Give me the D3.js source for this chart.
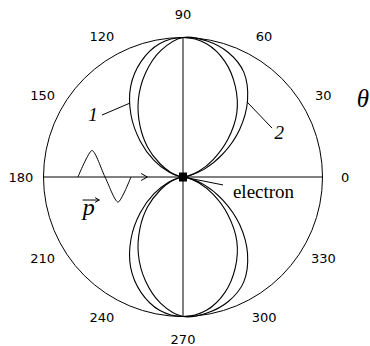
<!DOCTYPE html>
<html>
<head>
<meta charset="utf-8">
<script src="https://cdn.jsdelivr.net/npm/d3@7"></script>
<style>
  body { margin: 0; background: #fff; }
  svg { display: block; }
</style>
</head>
<body>
<svg></svg>
<script>
// polar angles (deg) and relative radius of the two lobes
var angles = [0,10,20,30,40,50,60,70,80,90,100,110,120,130,140,150,160,170,
              180,190,200,210,220,230,240,250,260,270,280,290,300,310,320,330,340,350]
var curve1 = [0,0.03,0.12,0.25,0.42,0.60,0.75,0.88,0.97,1.0,0.97,0.88,0.75,0.58,0.40,0.24,0.11,0.03,
              0,0.03,0.11,0.24,0.40,0.58,0.75,0.88,0.97,1.0,0.97,0.88,0.75,0.60,0.42,0.25,0.12,0.03]
var curve2 = [0,0.04,0.16,0.33,0.53,0.72,0.87,0.95,0.99,1.0,0.92,0.79,0.64,0.48,0.33,0.19,0.09,0.02,
              0,0.02,0.09,0.19,0.33,0.48,0.64,0.79,0.92,1.0,0.99,0.95,0.87,0.72,0.53,0.33,0.16,0.04]
var tickAngles = [0,30,60,90,120,150,180,210,240,270,300,330]

var width = 370
var height = 346
var cx = 183, cy = 177, R = 139.5

var svg = d3.select("svg")
    .attr("width", width)
    .attr("height", height)

var x = d3.scaleLinear().domain([-1, 1]).range([cx - R, cx + R])
var y = d3.scaleLinear().domain([-1, 1]).range([cy + R, cy - R])
var r = d3.scaleLinear().domain([0, 1]).range([0, R])

var g = svg.append("g")
    .attr("transform", "translate(" + cx + "," + cy + ")")

// outer ring
g.append("circle")
    .attr("r", r(1))
    .attr("fill", "none")
    .attr("stroke", "#000")
    .attr("stroke-width", 1)

// axes
svg.append("line")
    .attr("x1", x(-1)).attr("x2", x(1))
    .attr("y1", y(0)).attr("y2", y(0))
    .attr("stroke", "#000")
svg.append("line")
    .attr("x1", x(0)).attr("x2", x(0))
    .attr("y1", y(1)).attr("y2", y(-1))
    .attr("stroke", "#000")

// lobes
var radial = d3.lineRadial()
    .angle(function(d) { return Math.PI / 2 - d[0] * Math.PI / 180 })
    .radius(function(d) { return r(d[1]) })
    .curve(d3.curveCatmullRomClosed)

;[curve1, curve2].forEach(function(c) {
    g.append("path")
        .datum(angles.map(function(a, i) { return [a, c[i]] }))
        .attr("d", radial)
        .attr("fill", "none")
        .attr("stroke", "#000")
        .attr("stroke-width", 1.1)
})

// tick labels round the ring
g.selectAll("text.tick")
    .data(tickAngles)
    .enter().append("text")
    .attr("class", "tick")
    .attr("x", function(d) { return r(1.162) * Math.cos(d * Math.PI / 180) })
    .attr("y", function(d) { return -r(1.162) * Math.sin(d * Math.PI / 180) })
    .attr("text-anchor", "middle")
    .attr("dominant-baseline", "central")
    .style("font-family", "DejaVu Sans")
    .style("font-size", "13px")
    .style("fill", "#000")
    .text(function(d) { return d })

// electron
svg.append("rect")
    .attr("x", x(0) - 4).attr("y", y(0) - 4.5)
    .attr("width", 8).attr("height", 9)
    .attr("fill", "#000")

var line = d3.line().x(function(d) { return x(d[0]) }).y(function(d) { return y(d[1]) })

// incoming wave + arrow
var wave = [[-0.753,0],[-0.652,0.19],[-0.559,0],[-0.466,-0.18],[-0.373,0]]
svg.append("path")
    .attr("d", line.curve(d3.curveCardinal.tension(0.3))(wave))
    .attr("fill", "none").attr("stroke", "#000")
line.curve(d3.curveLinear)
svg.append("path")
    .attr("d", line([[-0.30,0.025],[-0.255,0],[-0.30,-0.025]]))
    .attr("fill", "none").attr("stroke", "#000")

// p vector
svg.append("text")
    .attr("x", x(-0.675)).attr("y", y(-0.272))
    .attr("text-anchor", "middle")
    .style("font-family", "Liberation Serif")
    .style("font-style", "italic")
    .style("font-size", "24px")
    .text("p")
svg.append("path")
    .attr("d", line([[-0.72,-0.165],[-0.60,-0.165]]))
    .attr("stroke", "#000").attr("fill", "none")
svg.append("path")
    .attr("d", line([[-0.63,-0.148],[-0.60,-0.165],[-0.63,-0.182]]))
    .attr("stroke", "#000").attr("fill", "none")

// curve labels
var notes = [
    {t: "1", at: [-0.645, 0.40], from: [-0.581, 0.444], to: [-0.380, 0.530]},
    {t: "2", at: [0.690, 0.27], from: [0.459, 0.538], to: [0.638, 0.351]}
]
notes.forEach(function(n) {
    svg.append("path")
        .attr("d", line([n.from, n.to]))
        .attr("stroke", "#000").attr("fill", "none")
    svg.append("text")
        .attr("x", x(n.at[0])).attr("y", y(n.at[1]))
        .attr("text-anchor", "middle")
        .style("font-family", "Liberation Serif")
        .style("font-style", "italic")
        .style("font-size", "19px")
        .text(n.t)
})

// electron label
svg.append("path")
    .attr("d", line([[0.036,-0.007],[0.287,-0.057]]))
    .attr("stroke", "#000").attr("fill", "none")
svg.append("text")
    .attr("x", x(0.358)).attr("y", y(-0.15))
    .style("font-family", "Liberation Serif")
    .style("font-size", "19px")
    .text("electron")

// theta
svg.append("text")
    .attr("x", x(1.245)).attr("y", y(0.50))
    .style("font-family", "Liberation Serif")
    .style("font-style", "italic")
    .style("font-size", "25px")
    .text("θ")
</script>
</body>
</html>
